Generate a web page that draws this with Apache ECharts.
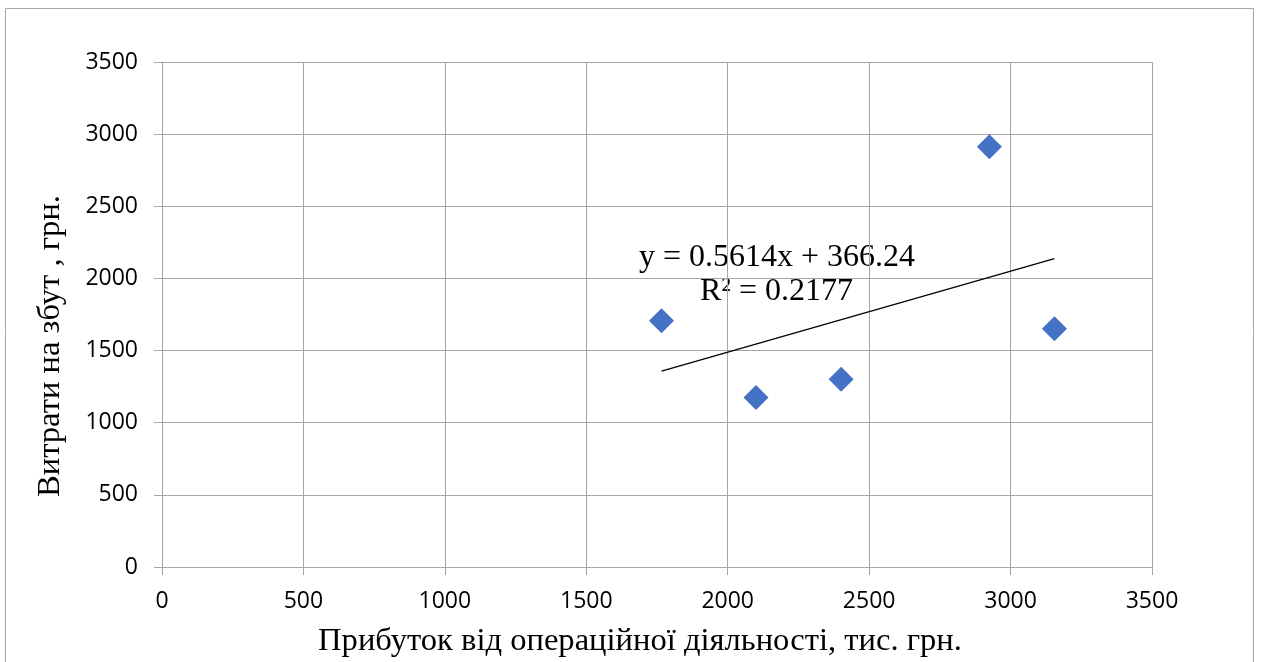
<!DOCTYPE html>
<html>
<head>
<meta charset="utf-8">
<script src="https://cdn.jsdelivr.net/npm/echarts@6/dist/echarts.min.js"></script>
<style>
  html, body { margin: 0; padding: 0; background: #fff; }
  #chart { width: 1261px; height: 662px; }
</style>
</head>
<body>
<div id="chart"></div>
<script>
// прибуток (x) та витрати на збут (y)
const profit = [1766, 2100, 2401, 2925, 3155]
const salesCost = [1706, 1175, 1302, 2912, 1651]
// лінія тренду з підпису
const trendSlope = 0.5614
const trendIntercept = 366.24
const trendText = ['y = 0.5614x + 366.24', 'R² = 0.2177']
const yName = 'Витрати на збут , грн.'
const xName = 'Прибуток від операційної діяльності, тис. грн.'

const points = profit.map((x, i) => [x, salesCost[i]])
const xMin = Math.min(...profit)
const xMax = Math.max(...profit)
const trendLine = [
  [xMin, trendSlope * xMin + trendIntercept],
  [xMax, trendSlope * xMax + trendIntercept]
]

const tickFont = { fontFamily: 'Open Sans', fontSize: 23, color: '#000', formatter: v => String(v) }
const serifFont = '32px "Liberation Serif"'
const nameFont = '32.6px "Liberation Serif"'
const gridColor = '#a6a6a6'

const chart = echarts.init(document.getElementById('chart'))
chart.setOption({
  animation: false,
  grid: { left: 162, top: 62, right: 109, bottom: 95 },
  xAxis: {
    type: 'value',
    min: 0,
    max: 3500,
    interval: 500,
    axisLine: { show: true, lineStyle: { color: gridColor, width: 1 } },
    axisTick: { show: true, length: 8, lineStyle: { color: gridColor } },
    axisLabel: Object.assign({ margin: 23 }, tickFont),
    splitLine: { show: true, lineStyle: { color: gridColor, width: 1 } }
  },
  yAxis: {
    type: 'value',
    min: 0,
    max: 3500,
    interval: 500,
    axisLine: { show: true, lineStyle: { color: gridColor, width: 1 } },
    axisTick: { show: true, length: 8, lineStyle: { color: gridColor } },
    axisLabel: Object.assign({ margin: 24 }, tickFont),
    splitLine: { show: true, lineStyle: { color: gridColor, width: 1 } }
  },
  graphic: [
    {
      type: 'rect',
      shape: { x: 5.5, y: 8.5, width: 1248, height: 700 },
      style: { fill: 'none', stroke: '#a6a6a6', lineWidth: 1 },
      silent: true
    },
    {
      // назви осей стоять трохи не по центру, як в оригіналі
      type: 'text',
      x: 50,
      y: 346,
      rotation: Math.PI / 2,
      style: { text: yName, font: nameFont, fill: '#000', align: 'center', verticalAlign: 'middle' }
    },
    {
      type: 'text',
      x: 640,
      y: 641,
      style: { text: xName, font: nameFont, fill: '#000', align: 'center', verticalAlign: 'middle' }
    },
    {
      type: 'text',
      left: 639,
      top: 242,
      style: { text: trendText[0], font: serifFont, fill: '#000' }
    },
    {
      type: 'text',
      left: 700,
      top: 276,
      style: { text: trendText[1], font: serifFont, fill: '#000' }
    }
  ],
  series: [
    {
      type: 'line',
      data: trendLine,
      symbol: 'none',
      lineStyle: { color: '#000', width: 1.3 },
      z: 3
    },
    {
      type: 'scatter',
      data: points,
      symbol: 'diamond',
      symbolSize: [25, 25],
      itemStyle: { color: '#4472c4', opacity: 1 },
      z: 4
    }
  ]
})
</script>
</body>
</html>
